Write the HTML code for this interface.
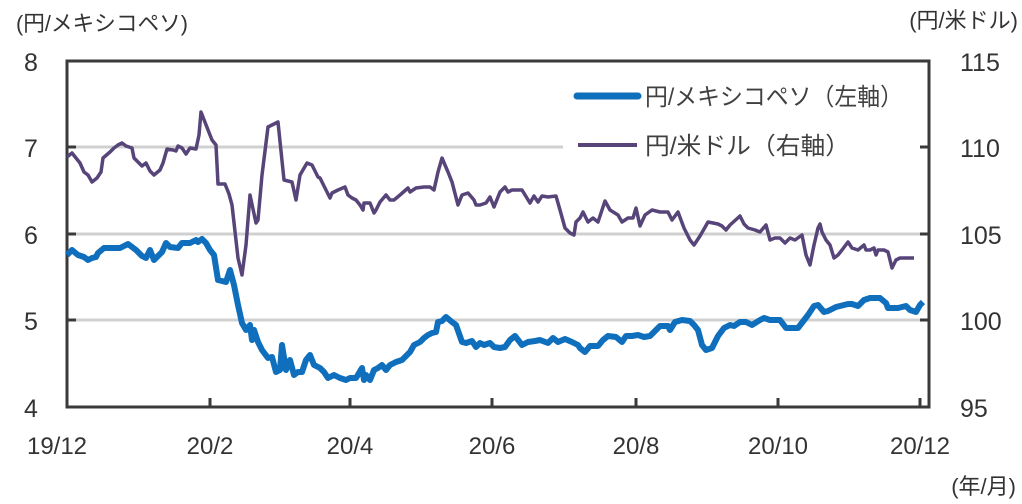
<!DOCTYPE html>
<html><head><meta charset="utf-8"><style>
html,body{margin:0;padding:0;background:#fff;}
svg{display:block;font-family:"Liberation Sans","Noto Sans CJK JP",sans-serif;}
</style></head><body>
<svg width="1022" height="504" viewBox="0 0 1022 504">
<rect width="1022" height="504" fill="#fff"/>
<g stroke="#d0d0d0" stroke-width="3">
<line x1="67" y1="147" x2="563" y2="147"/>
<line x1="67" y1="234" x2="929" y2="234"/>
<line x1="67" y1="320" x2="929" y2="320"/>
</g>
<rect x="67" y="61" width="862" height="346" fill="none" stroke="#3a3a3a" stroke-width="3"/>
<g stroke="#3a3a3a" stroke-width="3">
<line x1="67" y1="147" x2="76" y2="147"/><line x1="67" y1="234" x2="76" y2="234"/><line x1="67" y1="320" x2="76" y2="320"/>
<line x1="920" y1="147" x2="929" y2="147"/><line x1="920" y1="234" x2="929" y2="234"/><line x1="920" y1="320" x2="929" y2="320"/>
<line x1="210" y1="398" x2="210" y2="407"/><line x1="350" y1="398" x2="350" y2="407"/><line x1="492" y1="398" x2="492" y2="407"/><line x1="636" y1="398" x2="636" y2="407"/><line x1="778" y1="398" x2="778" y2="407"/><line x1="920" y1="398" x2="920" y2="407"/>
</g>
<polyline fill="none" stroke="#574478" stroke-width="3.5" stroke-linejoin="round" points="67,157 72,153 80,163 84,172 88,175 92,182 97,178 101,172 103,158 110,152 114,148 118,145 122,143 126,146 132,148 134,158 138,162 142,166 146,163 150,171 154,175 160,170 163,163 167,149 173,150 176,151 178,146 182,148 186,154 190,148 196,149 199,135 201,112 210,135 212,140 216,145 218,184 225,184 229,194 232,205 238,258 242,275 246,245 250,195 256,223 258,220 262,175 268,127 272,125 278,122 284,180 292,182 296,200 300,175 307,163 312,165 318,177 320,178 326,190 330,198 332,193 338,190 345,187 348,195 352,198 356,200 360,205 363,210 364,203 370,203 374,213 376,210 380,202 386,195 390,200 394,200 400,195 408,188 410,192 416,188 424,187 430,187 434,190 438,172 442,158 448,172 452,182 458,205 462,195 468,193 474,200 476,205 480,205 486,203 490,197 494,207 500,192 505,187 508,192 512,190 522,190 530,203 534,196 538,202 542,196 548,197 556,196 560,210 565,228 570,233 574,235 576,222 580,218 583,212 588,222 593,218 598,222 605,201 610,210 618,215 622,222 628,218 633,218 636,208 640,226 645,215 652,210 660,212 668,212 672,220 678,212 684,228 690,240 694,245 700,236 708,222 718,224 722,226 726,230 730,225 740,216 744,224 748,228 755,230 760,232 766,225 770,240 775,238 780,238 785,243 790,238 795,240 802,235 806,255 810,265 814,245 818,228 820,224 822,232 826,240 830,245 834,258 838,255 842,250 848,242 852,248 858,250 864,245 866,250 870,250 874,248 876,255 878,250 884,250 888,252 892,268 896,260 900,258 910,258 914,258"/>
<polyline fill="none" stroke="#0f6fbd" stroke-width="6" stroke-linejoin="round" points="67,255 72,250 78,255 84,257 88,260 92,258 96,257 98,253 104,248 115,248 120,248 124,246 128,244 132,247 136,250 142,256 146,258 150,250 154,260 158,256 162,252 166,243 170,247 178,248 182,243 190,243 196,240 198,242 202,239 206,243 210,250 214,255 218,280 226,282 230,270 234,285 238,305 242,323 246,330 250,325 252,340 254,330 258,342 262,350 268,358 272,357 276,372 280,370 282,345 286,370 290,360 294,375 298,372 302,372 306,360 310,355 314,365 320,368 324,372 328,378 334,375 340,378 346,380 350,378 356,378 362,368 364,380 366,375 370,380 374,370 378,368 382,365 386,370 390,365 396,362 402,360 410,352 414,345 420,342 424,338 428,335 432,333 436,332 438,322 442,321 446,317 452,322 456,325 462,342 466,343 472,341 476,347 480,343 484,345 490,343 494,347 500,348 505,347 510,340 515,336 522,345 528,342 535,341 540,340 548,343 553,338 558,342 565,339 572,342 578,345 580,348 585,352 590,346 598,346 603,340 608,336 616,337 622,342 626,336 632,336 638,335 644,337 650,336 656,330 660,326 668,326 670,330 675,322 682,320 690,321 694,325 698,330 702,345 706,350 712,348 718,336 724,328 730,325 734,326 740,322 746,322 752,325 760,320 764,318 770,320 776,320 780,320 786,328 798,328 808,315 814,306 818,305 824,312 828,311 836,307 840,306 848,304 852,304 858,306 864,300 870,298 874,298 880,298 886,303 888,308 898,308 906,306 910,310 916,312 920,305 923,302"/>
<line x1="577" y1="96" x2="638" y2="96" stroke="#0f6fbd" stroke-width="7" stroke-linecap="round"/>
<line x1="578" y1="145" x2="637" y2="145" stroke="#574478" stroke-width="4"/>
<g fill="#404040" font-size="24">
<text x="645" y="105" textLength="258" lengthAdjust="spacingAndGlyphs">円/メキシコペソ（左軸）</text>
<text x="645" y="154" textLength="205" lengthAdjust="spacingAndGlyphs">円/米ドル（右軸）</text>
</g>
<g fill="#333" font-size="25" text-anchor="middle">
<text x="31" y="71">8</text><text x="31" y="157">7</text><text x="31" y="244">6</text><text x="31" y="330">5</text><text x="31" y="417">4</text>
</g>
<g fill="#333" font-size="25" text-anchor="start">
<text x="960" y="71">115</text><text x="960" y="157">110</text><text x="960" y="244">105</text><text x="960" y="330">100</text><text x="960" y="417">95</text>
</g>
<g fill="#333" font-size="24" text-anchor="middle">
<text x="57" y="454">19/12</text><text x="210" y="454">20/2</text><text x="350" y="454">20/4</text><text x="492" y="454">20/6</text><text x="636" y="454">20/8</text><text x="778" y="454">20/10</text><text x="920" y="454">20/12</text>
</g>
<g fill="#333" font-size="22">
<text x="16" y="31" textLength="172" lengthAdjust="spacingAndGlyphs">(円/メキシコペソ)</text>
<text x="1018" y="28" text-anchor="end">(円/米ドル)</text>
<text x="1016" y="494" text-anchor="end">(年/月)</text>
</g>
</svg>
</body></html>
